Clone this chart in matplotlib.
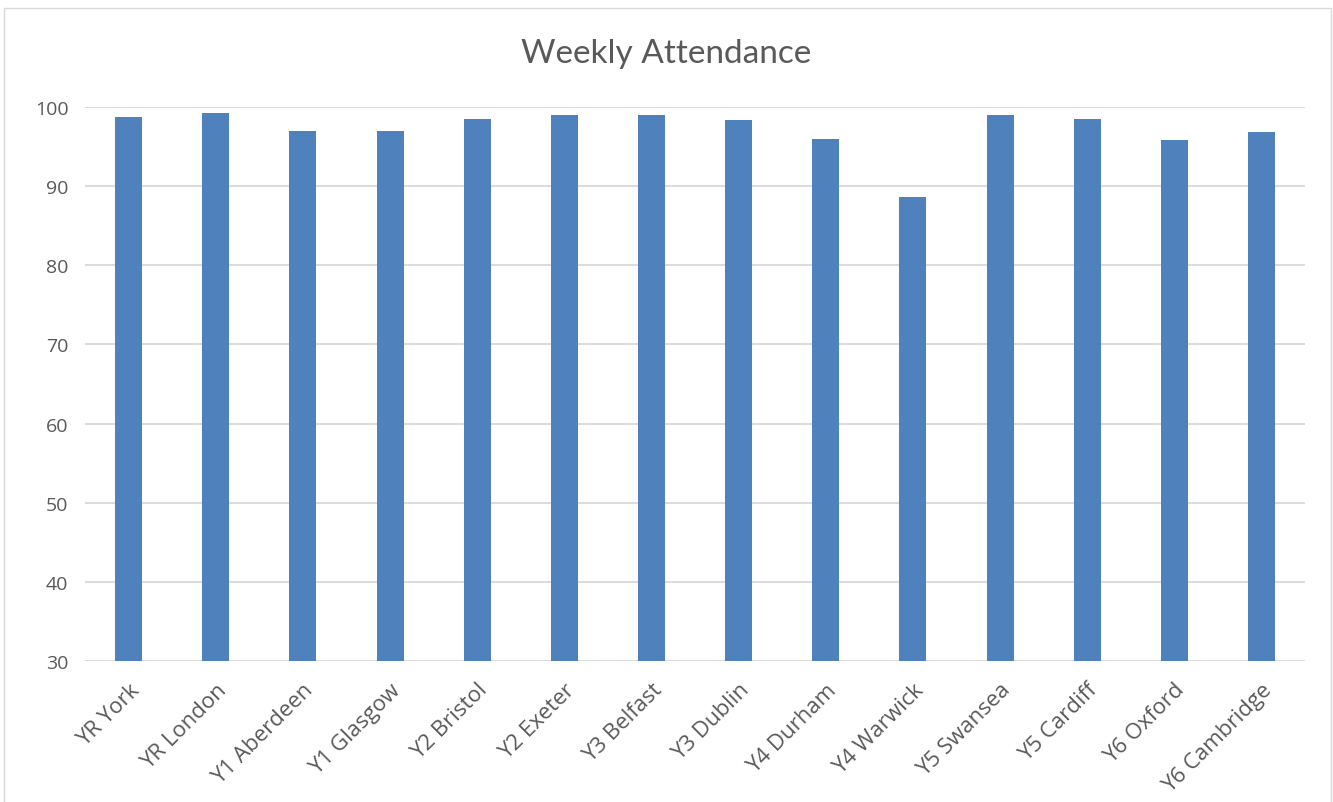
import matplotlib.pyplot as plt
from matplotlib.patches import Rectangle

# data
classes = ['YR York', 'YR London', 'Y1 Aberdeen', 'Y1 Glasgow', 'Y2 Bristol',
           'Y2 Exeter', 'Y3 Belfast', 'Y3 Dublin', 'Y4 Durham', 'Y4 Warwick',
           'Y5 Swansea', 'Y5 Cardiff', 'Y6 Oxford', 'Y6 Cambridge']
attendance = [98.7, 99.3, 97.0, 97.0, 98.5, 99.0, 99.0, 98.3, 96.0, 88.6,
              99.0, 98.5, 95.8, 96.9]
y_ticks = [30, 40, 50, 60, 70, 80, 90, 100]

plt.rcParams['font.family'] = ['Open Sans', 'DejaVu Sans']
text_col = '#595959'

fig = plt.figure(figsize=(13.33, 8.03), dpi=100)
ax = fig.add_axes([0.0638, 0.1756, 0.9152, 0.6899])

x = range(len(classes))
ax.bar(x, attendance, width=0.31, color='#4F81BD', zorder=3)

ax.set_ylim(30, 100)
ax.set_xlim(-0.5, len(classes) - 0.5)
ax.set_yticks(y_ticks)
ax.set_xticks(list(x))
ax.set_xticklabels(classes, rotation=45, ha='right', rotation_mode='anchor',
                   fontsize=16)
ax.tick_params(axis='both', length=0, labelcolor=text_col)
ax.tick_params(axis='y', labelsize=14, pad=12)
ax.tick_params(axis='x', pad=13)
ax.grid(axis='y', color='#D9D9D9', linewidth=1.3, zorder=0)
for s in ax.spines.values():
    s.set_visible(False)

fig.text(0.5, 0.933, 'Weekly Attendance', ha='center', va='center',
         fontsize=24, color=text_col, family=['Lato', 'DejaVu Sans'])

# chart area border
fig.patches.append(Rectangle((4 / 1333, -0.01), 1327 / 1333, 1 - 9 / 803 + 0.01,
                             transform=fig.transFigure, fill=False,
                             edgecolor='#D9D9D9', linewidth=1))

plt.savefig('out.png', dpi=100)
